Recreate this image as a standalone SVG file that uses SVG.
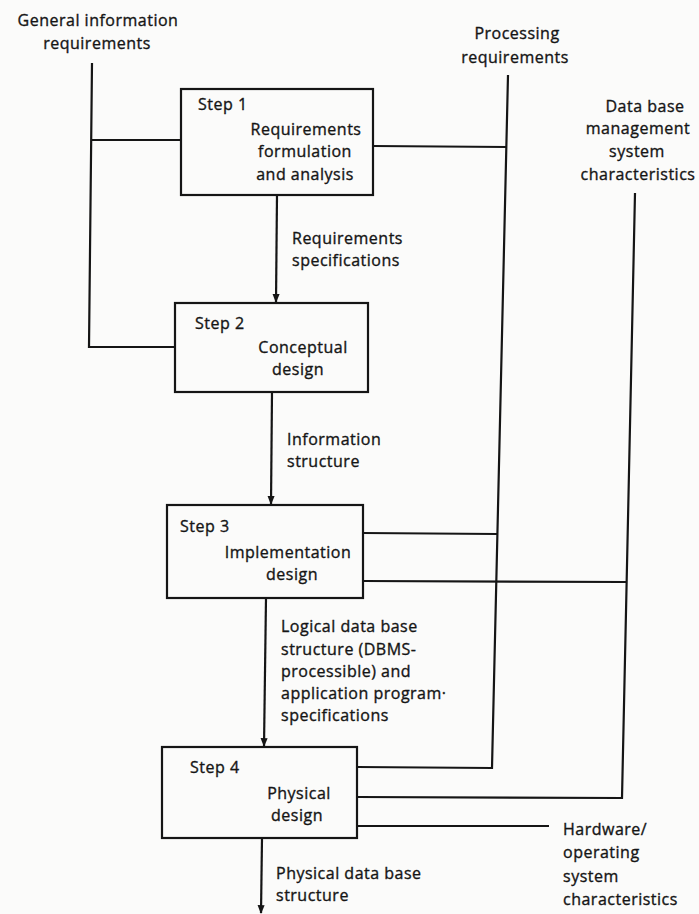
<svg xmlns="http://www.w3.org/2000/svg" width="699" height="914" viewBox="0 0 699 914">
<style>
text{font-family:"Open Sans","Noto Sans",sans-serif;font-size:16px;letter-spacing:0.5px;fill:#151515;stroke:#151515;stroke-width:0.35}
.c{text-anchor:middle}
.box{fill:none;stroke:#151515;stroke-width:2.2}
.ln{fill:none;stroke:#151515;stroke-width:2.2}
</style>
<defs>
<marker id="ah" viewBox="0 0 10 10" refX="9" refY="5" markerWidth="4" markerHeight="4" orient="auto" markerUnits="strokeWidth">
<path d="M0,1 L10,5 L0,9 z" fill="#151515"/>
</marker>
</defs>
<rect width="699" height="914" fill="#fbfbfa"/>
<g id="inputs">
<text x="98" y="26" class="c">General information</text>
<text x="97" y="49" class="c">requirements</text>
<text x="517" y="39" class="c">Processing</text>
<text x="515" y="63" class="c">requirements</text>
<text x="645" y="112" class="c">Data base</text>
<text x="638" y="134" class="c">management</text>
<text x="637" y="157" class="c">system</text>
<text x="638" y="180" class="c">characteristics</text>
<text x="563" y="835">Hardware/</text>
<text x="563" y="858">operating</text>
<text x="563" y="882">system</text>
<text x="563" y="905">characteristics</text>
</g>
<g id="step1">
<rect class="box" x="181" y="89" width="192" height="106"/>
<text x="198" y="110">Step 1</text>
<text x="306" y="135" class="c">Requirements</text>
<text x="305" y="157" class="c">formulation</text>
<text x="305" y="180" class="c">and analysis</text>
</g>
<g id="step2">
<rect class="box" x="175" y="303" width="193" height="89"/>
<text x="195" y="329">Step 2</text>
<text x="303" y="353" class="c">Conceptual</text>
<text x="298" y="375" class="c">design</text>
</g>
<g id="step3">
<rect class="box" x="167" y="505" width="196" height="93"/>
<text x="180" y="532">Step 3</text>
<text x="288" y="558" class="c">Implementation</text>
<text x="292" y="580" class="c">design</text>
</g>
<g id="step4">
<rect class="box" x="162" y="747" width="195" height="91"/>
<text x="190" y="773">Step 4</text>
<text x="299" y="799" class="c">Physical</text>
<text x="297" y="821" class="c">design</text>
</g>
<g id="labels">
<text x="292" y="244">Requirements</text>
<text x="292" y="266">specifications</text>
<text x="287" y="445">Information</text>
<text x="287" y="467">structure</text>
<text x="281" y="632">Logical data base</text>
<text x="281" y="655">structure (DBMS-</text>
<text x="281" y="677">processible) and</text>
<text x="281" y="699">application program·</text>
<text x="281" y="721">specifications</text>
<text x="276" y="879">Physical data base</text>
<text x="276" y="901">structure</text>
</g>
<g id="connectors">
<path class="ln" d="M92,63 L89,347 L175,347"/>
<path class="ln" d="M91,140 L181,140"/>
<path class="ln" d="M508,75 L492,768 L357,767"/>
<path class="ln" d="M373,146 L507,147"/>
<path class="ln" d="M635,193 L622,798 L357,797"/>
<path class="ln" d="M363,533 L497,534"/>
<path class="ln" d="M363,581 L626,582"/>
<path class="ln" d="M357,826 L549,826"/>
<path class="ln" d="M277,195 L276,302" marker-end="url(#ah)"/>
<path class="ln" d="M272,392 L271,504" marker-end="url(#ah)"/>
<path class="ln" d="M266,598 L264,746" marker-end="url(#ah)"/>
<path class="ln" d="M262,838 L261,913" marker-end="url(#ah)"/>
</g>
</svg>
